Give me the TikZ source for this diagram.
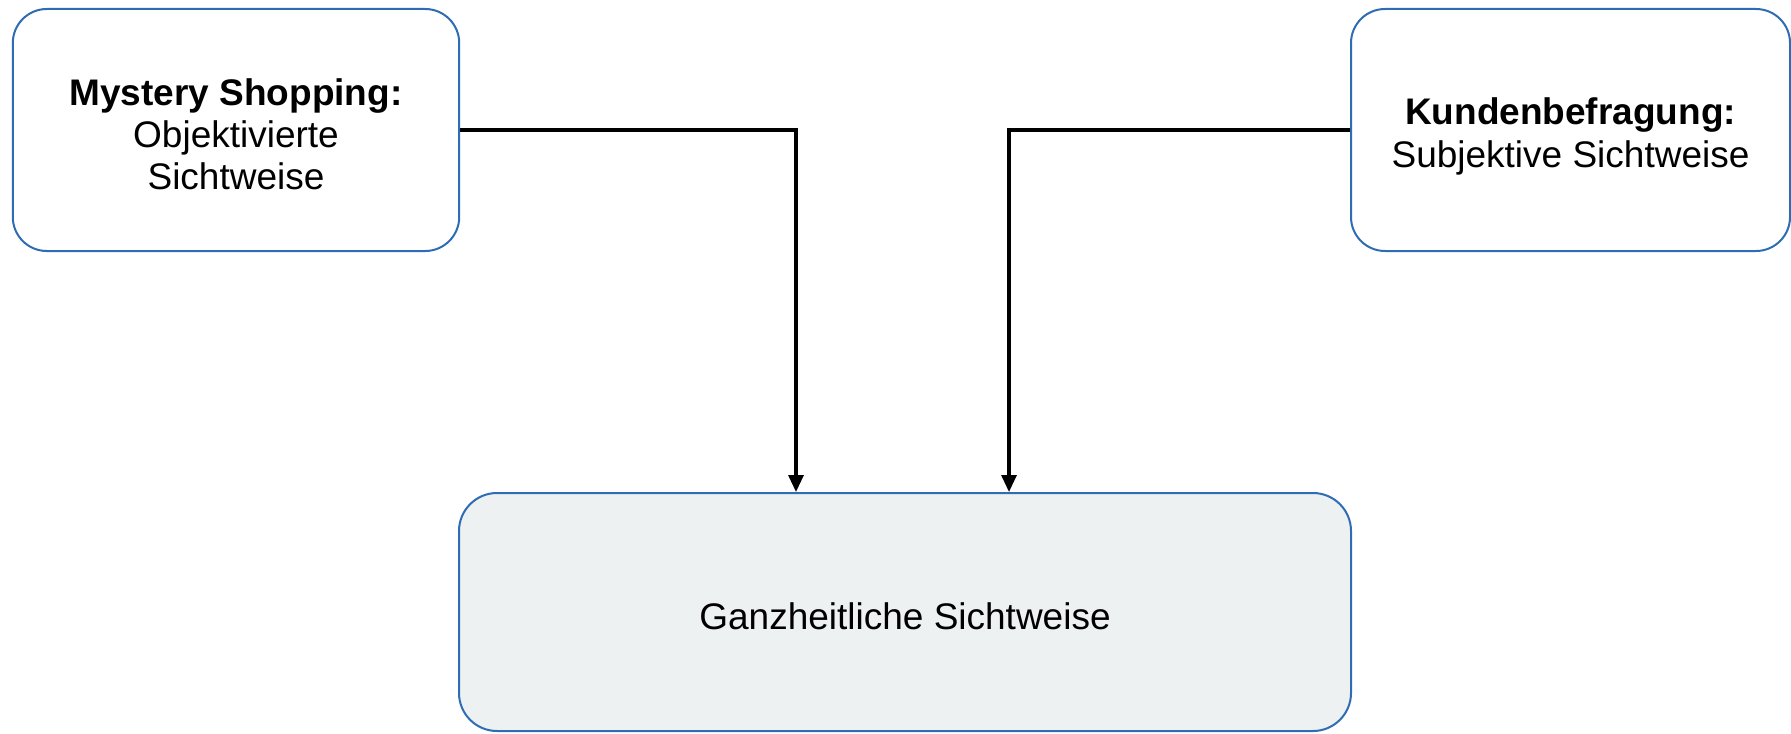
\documentclass[tikz,border=0pt]{standalone}
\usepackage{fontspec}
\setmainfont{Liberation Sans}
\usetikzlibrary{arrows.meta}
\definecolor{boxblue}{HTML}{2E6DB4}
\definecolor{boxfill}{HTML}{EDF1F2}
\newcommand{\boxtext}[2]{\raisebox{#1}[\height][\depth]{\begin{tabular}{@{}c@{}}#2\end{tabular}}}
\begin{document}
\begin{tikzpicture}[x=0.5pt,y=-0.5pt,
  box/.style={draw=boxblue, line width=1pt, rounded corners=17pt, align=center,
    font=\fontsize{18.5pt}{21pt}\selectfont, inner sep=0pt},
  conn/.style={draw=black, line width=1.6pt, -{Triangle[length=8.5pt,width=7.5pt]}}]
\useasboundingbox (0,0) rectangle (1791,733);
\node[box, fill=white, minimum width=223.2pt, minimum height=121pt] (L) at (236,130)
  {\boxtext{-4.4pt}{\textbf{Mystery Shopping:}\\Objektivierte\\Sichtweise}};
\node[box, fill=white, minimum width=219.5pt, minimum height=121pt] (R) at (1570.5,130)
  {\boxtext{-3.8pt}{\textbf{Kundenbefragung:}\\Subjektive Sichtweise}};
\node[box, fill=boxfill, rounded corners=19pt, minimum width=446pt, minimum height=119pt] (B) at (905,612)
  {\boxtext{-4.4pt}{Ganzheitliche Sichtweise}};
\coordinate (x1) at (796,0);
\coordinate (x2) at (1009,0);
\draw[conn] (L.east) -| (x1 |- B.north);
\draw[conn] (R.west) -| (x2 |- B.north);
\end{tikzpicture}
\end{document}
